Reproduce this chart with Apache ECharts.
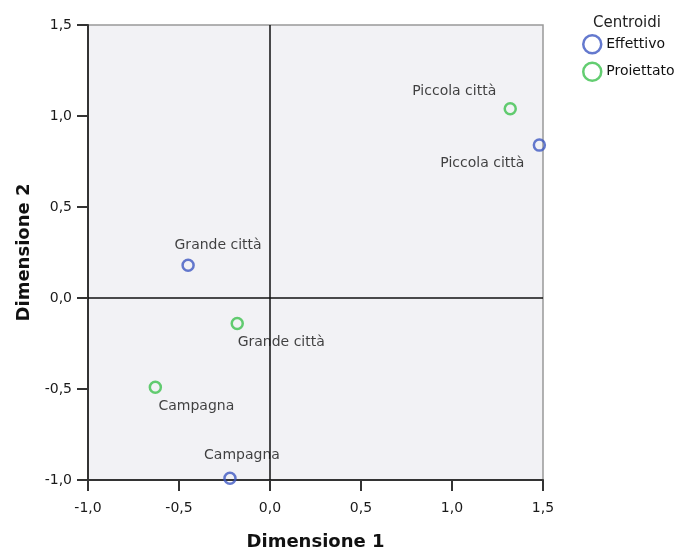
<!DOCTYPE html>
<html>
<head>
<meta charset="utf-8">
<script src="https://cdn.jsdelivr.net/npm/echarts@6/dist/echarts.min.js"></script>
<style>
    html, body { margin: 0; padding: 0; background: #fff; }
    #chart { width: 675px; height: 550px; }
</style>
</head>
<body>
<div id="chart"></div>
<script>
// Data
var categories = ['Grande città', 'Piccola città', 'Campagna'];
var effettivoX = [-0.45, 1.48, -0.22];
var effettivoY = [0.18, 0.84, -0.99];
var proiettatoX = [-0.18, 1.32, -0.63];
var proiettatoY = [-0.14, 1.04, -0.49];
var axisTicks = [-1.0, -0.5, 0.0, 0.5, 1.0, 1.5];

// Label placement (pixel offsets from each point)
var effettivoLabelOffset = [[30, -20], [-57, 18], [12, -23]];
var proiettatoLabelOffset = [[44, 19], [-56, -17], [41, 19]];

var fontFamily = '"DejaVu Sans", Verdana, sans-serif';
var blue = '#3d58c2';
var green = '#3cc14e';

function fmt(v) {
    return v.toFixed(1).replace('.', ',');
}

function buildData(xs, ys, offsets) {
    return xs.map(function (x, i) {
        return {
            name: categories[i],
            value: [x, ys[i]],
            label: { offset: offsets[i] }
        };
    });
}

var chart = echarts.init(document.getElementById('chart'), null, { renderer: 'canvas' });

var axisCommon = {
    type: 'value',
    min: axisTicks[0],
    max: axisTicks[axisTicks.length - 1],
    interval: 0.5,
    nameLocation: 'middle',
    nameTextStyle: {
        fontFamily: fontFamily,
        fontSize: 18,
        fontWeight: 'bold',
        color: '#111'
    },
    axisLine: { show: true, onZero: false, lineStyle: { color: '#333', width: 2 } },
    axisTick: { show: true, inside: false, length: 11, lineStyle: { color: '#333', width: 2 } },
    axisLabel: {
        fontFamily: fontFamily,
        fontSize: 14,
        color: '#1a1a1a',
        formatter: fmt
    },
    splitLine: { show: false }
};

chart.setOption({
    animation: false,
    textStyle: { fontFamily: fontFamily },

    title: {
        text: 'Centroidi',
        left: 588,
        top: 11,
        textStyle: { fontFamily: fontFamily, fontSize: 15, fontWeight: 'normal', color: '#222' }
    },

    legend: {
        orient: 'vertical',
        left: 577,
        top: 29,
        itemGap: 7,
        itemWidth: 18,
        itemHeight: 18,
        textStyle: { fontFamily: fontFamily, fontSize: 14, color: '#111' },
        data: [
            { name: 'Effettivo', icon: 'circle', itemStyle: { color: 'transparent', borderColor: blue, borderWidth: 2.5 } },
            { name: 'Proiettato', icon: 'circle', itemStyle: { color: 'transparent', borderColor: green, borderWidth: 2.5 } }
        ]
    },

    grid: {
        left: 88,
        right: 132,
        top: 25,
        bottom: 70,
        containLabel: false,
        outerBoundsMode: 'none',
        show: true,
        backgroundColor: '#f2f2f5',
        borderColor: '#999',
        borderWidth: 1.5
    },

    xAxis: Object.assign({}, axisCommon, {
        name: 'Dimensione 1',
        nameGap: 53,
        axisLabel: Object.assign({}, axisCommon.axisLabel, { margin: 21 })
    }),

    yAxis: Object.assign({}, axisCommon, {
        name: 'Dimensione 2',
        nameGap: 50,
        axisLabel: Object.assign({}, axisCommon.axisLabel, { margin: 16 })
    }),

    series: [
        {
            name: 'Effettivo',
            type: 'scatter',
            symbol: 'circle',
            symbolSize: 11,
            itemStyle: { color: 'transparent', borderColor: blue, borderWidth: 2.5 },
            label: {
                show: true,
                position: 'inside',
                formatter: '{b}',
                fontFamily: fontFamily,
                fontSize: 14,
                color: '#111'
            },
            data: buildData(effettivoX, effettivoY, effettivoLabelOffset),
            markLine: {
                silent: true,
                symbol: 'none',
                animation: false,
                label: { show: false },
                lineStyle: { color: '#111', width: 1.5, type: 'solid' },
                data: [{ xAxis: 0 }, { yAxis: 0 }]
            },
            z: 3
        },
        {
            name: 'Proiettato',
            type: 'scatter',
            symbol: 'circle',
            symbolSize: 11,
            itemStyle: { color: 'transparent', borderColor: green, borderWidth: 2.5 },
            label: {
                show: true,
                position: 'inside',
                formatter: '{b}',
                fontFamily: fontFamily,
                fontSize: 14,
                color: '#111'
            },
            data: buildData(proiettatoX, proiettatoY, proiettatoLabelOffset),
            z: 3
        }
    ]
});
</script>
</body>
</html>
